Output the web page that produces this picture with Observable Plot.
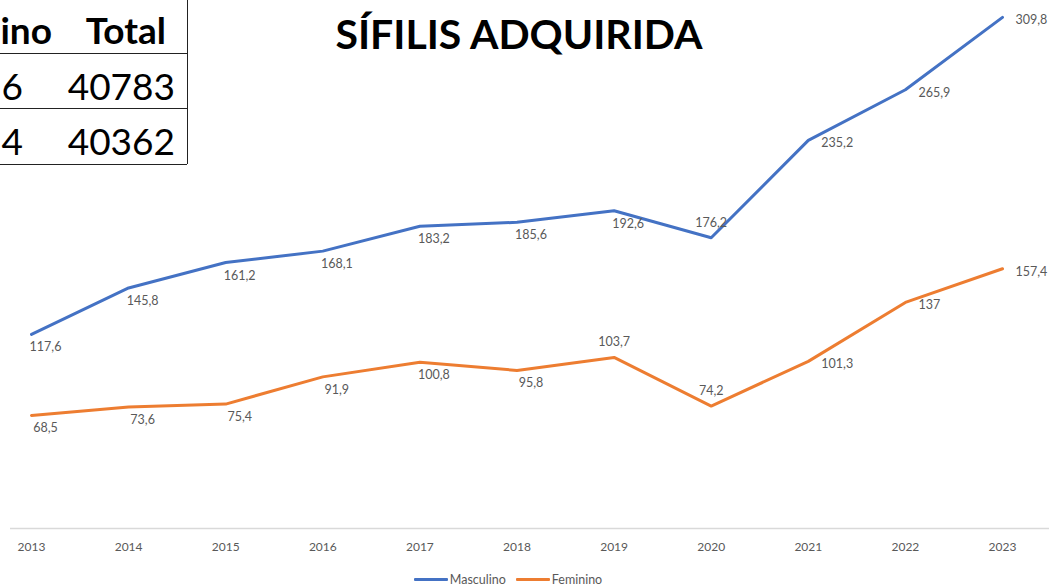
<!DOCTYPE html>
<html>
<head>
<meta charset="utf-8">
<script src="https://cdn.jsdelivr.net/npm/d3@7"></script>
<script src="https://cdn.jsdelivr.net/npm/@observablehq/plot@0.6"></script>
<style>
  html, body { margin: 0; padding: 0; background: #fff; }
  body { width: 1049px; height: 587px; position: relative; overflow: hidden; font-family: Lato, "Open Sans", sans-serif; }
  #chart { position: absolute; left: 0; top: 0; }
  #title { position: absolute; left: 0; width: 1038px; top: 13px; text-align: center; font-weight: 700; font-size: 41px; line-height: 1; color: #000; }
  #tbl { position: absolute; left: 0; top: 0; width: 187px; height: 164px; border-right: 1.5px solid #222; }
  .row { position: absolute; left: 0; width: 187px; border-bottom: 1.5px solid #222; }
  .cell { position: absolute; font-size: 37px; line-height: 1; color: #000; }
  .hdr { font-weight: 700; }
  #legend { position: absolute; top: 572px; left: 0; width: 1016px; display: flex; justify-content: center; gap: 10px; font-size: 12.5px; color: #595959; }
  .item { display: flex; align-items: center; }
  .sw { display: inline-block; width: 34px; height: 3px; margin-right: 2px; border-radius: 1px; }
</style>
</head>
<body>
<div id="chart"></div>
<div id="title"></div>
<div id="tbl"></div>
<div id="legend"></div>
<script>
// ---- data ----
const years = [2013, 2014, 2015, 2016, 2017, 2018, 2019, 2020, 2021, 2022, 2023];
const masculino = [117.6, 145.8, 161.2, 168.1, 183.2, 185.6, 192.6, 176.2, 235.2, 265.9, 309.8];
const feminino = [68.5, 73.6, 75.4, 91.9, 100.8, 95.8, 103.7, 74.2, 101.3, 137, 157.4];
const seriesNames = ["Masculino", "Feminino"];
const seriesColors = ["#4472C4", "#ED7D31"];
const masculinoLabelSide = ["below", "below", "below", "below", "below", "below", "below", "above", "right", "right", "right"];
const femininoLabelSide = ["below", "below", "below", "below", "below", "below", "above", "above", "right", "right", "right"];
const titleText = "SÍFILIS ADQUIRIDA";
const tableHeader = ["ino", "Total"];
const tableFirstCol = ["6", "4"];
const tableTotals = ["40783", "40362"];

// ---- build rows ----
const rows = [];
years.forEach((y, i) => {
  rows.push({year: y, value: masculino[i], series: seriesNames[0], side: masculinoLabelSide[i]});
});
years.forEach((y, i) => {
  rows.push({year: y, value: feminino[i], series: seriesNames[1], side: femininoLabelSide[i]});
});
const fmt = v => String(v).replace(".", ",");

const labelStyle = {
  below: {textAnchor: "middle", dx: 14, dy: 13},
  above: {textAnchor: "middle", dx: 0, dy: -15},
  right: {textAnchor: "start", dx: 13, dy: 3}
};

const labelMarks = Object.entries(labelStyle).map(([side, st]) =>
  Plot.text(rows.filter(r => r.side === side), {
    x: "year", y: "value", text: d => fmt(d.value),
    fill: "#595959", fontSize: 12.5, ...st
  })
);

const chart = Plot.plot({
  width: 1049,
  height: 565,
  marginTop: 0,
  marginBottom: 37,
  marginLeft: 10,
  marginRight: 0,
  style: {fontFamily: "Lato, 'Open Sans', sans-serif", background: "transparent", overflow: "visible"},
  x: {domain: [2013 - 21 / 97.1, 2023 + 47 / 97.1], axis: null},
  y: {domain: [0, 320], axis: null},
  color: {domain: seriesNames, range: seriesColors},
  marks: [
    Plot.ruleY([0], {stroke: "#d9d9d9", strokeWidth: 1.5}),
    Plot.axisX({ticks: years, tickFormat: d => String(d), tickSize: 0, tickPadding: 14, fontSize: 12, color: "#595959", label: null}),
    Plot.line(rows, {x: "year", y: "value", stroke: "series", strokeWidth: 3, strokeLinecap: "round", strokeLinejoin: "round"}),
    ...labelMarks
  ]
});
document.getElementById("chart").appendChild(chart);

// title
document.getElementById("title").textContent = titleText;

// table fragment
const tbl = document.getElementById("tbl");
const rowTops = [0, 53, 108];
const rowHeights = [53, 55, 56];
const rowTexts = [
  [tableHeader[0], tableHeader[1], true],
  [tableFirstCol[0], tableTotals[0], false],
  [tableFirstCol[1], tableTotals[1], false]
];
rowTexts.forEach((r, i) => {
  const row = document.createElement("div");
  row.className = "row";
  row.style.top = rowTops[i] + "px";
  row.style.height = rowHeights[i] + "px";
  const c1 = document.createElement("div");
  c1.className = "cell" + (r[2] ? " hdr" : "");
  c1.style.right = (187 - (r[2] ? 52 : 23)) + "px";
  c1.style.top = (r[2] ? 11 : 14) + "px";
  c1.textContent = r[0];
  const c2 = document.createElement("div");
  c2.className = "cell" + (r[2] ? " hdr" : "");
  c2.style.right = (r[2] ? 21 : 12) + "px";
  c2.style.top = (r[2] ? 11 : 14) + "px";
  c2.textContent = r[1];
  row.appendChild(c1);
  row.appendChild(c2);
  tbl.appendChild(row);
});

// legend
const legend = document.getElementById("legend");
seriesNames.forEach((name, i) => {
  const item = document.createElement("div");
  item.className = "item";
  const sw = document.createElement("span");
  sw.className = "sw";
  sw.style.background = seriesColors[i];
  const t = document.createElement("span");
  t.textContent = name;
  item.appendChild(sw);
  item.appendChild(t);
  legend.appendChild(item);
});
</script>
</body>
</html>
